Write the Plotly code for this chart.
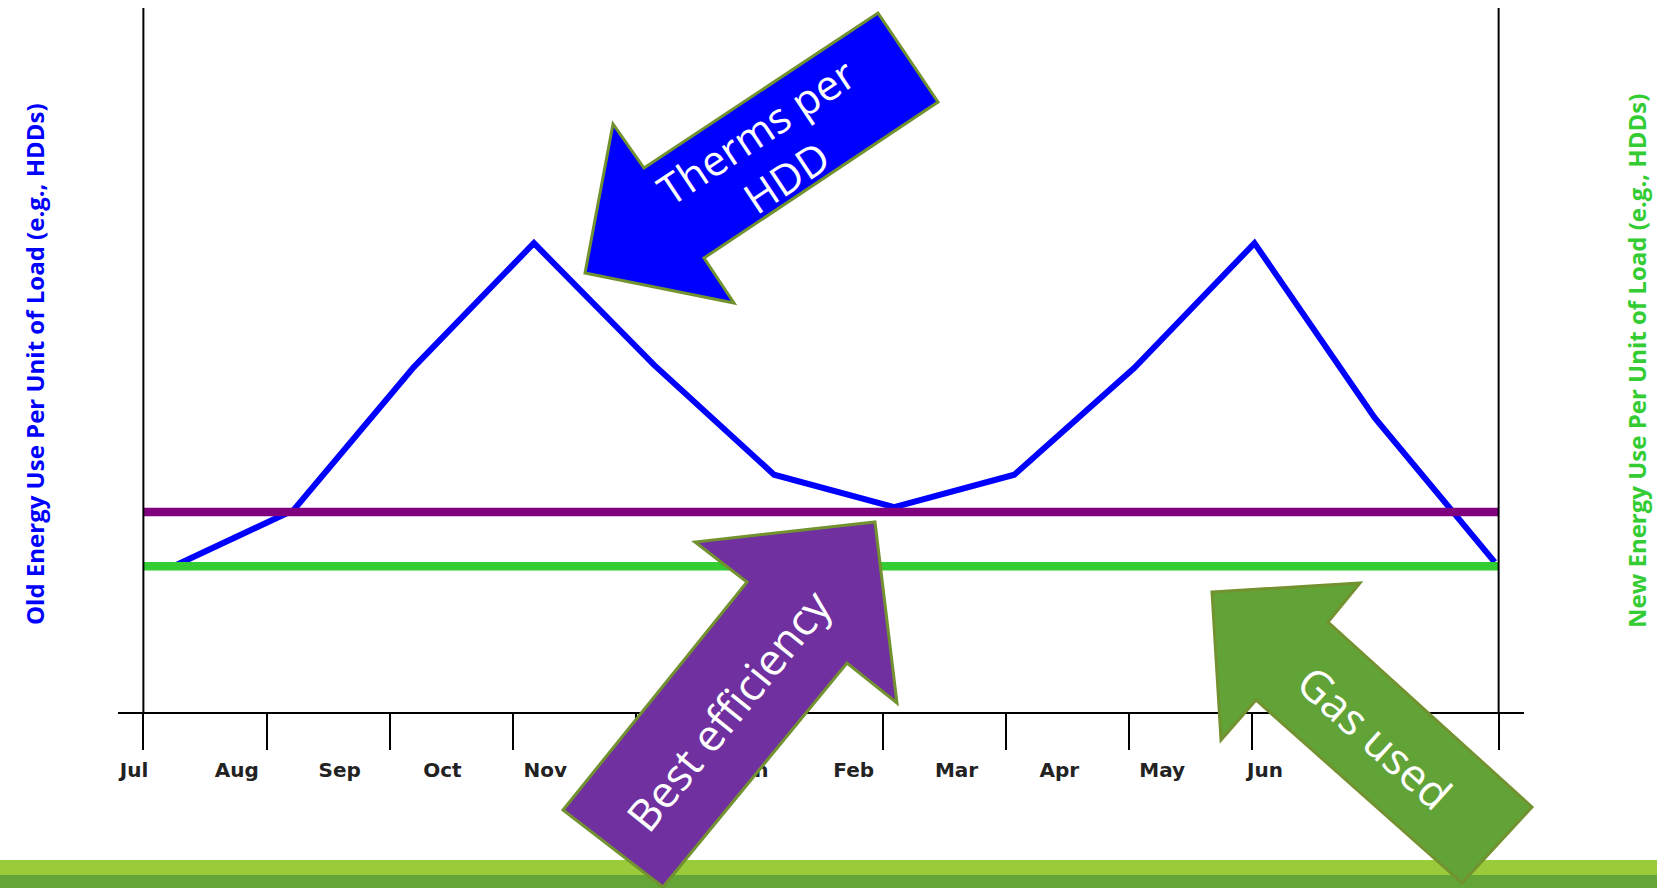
import plotly.graph_objects as go

# ---- data -------------------------------------------------------------
MONTHS = ["Jul", "Aug", "Sep", "Oct", "Nov", "Dec",
          "Jan", "Feb", "Mar", "Apr", "May", "Jun"]

# therms per heating degree day, month by month
THERMS_PER_HDD = [2.07, 2.87, 4.90, 6.66, 4.93, 3.37, 2.91, 3.37, 4.89, 6.66, 4.18, 2.13]
# best efficiency reached (flat reference level)
BEST_EFFICIENCY = [2.84, 2.84, 2.84, 2.84, 2.84, 2.84, 2.84, 2.84, 2.84, 2.84, 2.84, 2.84]
# gas used after the upgrade (flat level)
GAS_USED = [2.07, 2.07, 2.07, 2.07, 2.07, 2.07, 2.07, 2.07, 2.07, 2.07, 2.07, 2.07]

LEFT_TITLE = "Old Energy Use Per Unit of Load (e.g., HDDs)"
RIGHT_TITLE = "New Energy Use Per Unit of Load (e.g., HDDs)"

# ---- page geometry ----------------------------------------------------
W, H = 1657, 888
ML, MR, MT, MB = 118, 133, 8, 176
PW, PH = W - ML - MR, H - MT - MB


def paper(px, py):
    """Page pixel position -> paper coordinates."""
    return (px - ML) / PW, (H - MB - py) / PH


def arrow_path(pts):
    out = []
    for i, (x, y) in enumerate(pts):
        u, v = paper(x, y)
        out.append(("M" if i == 0 else "L") + f"{u:.5f},{v:.5f}")
    return " ".join(out) + " Z"


BLUE = "#0000FF"
PURPLE = "#800080"
LIME = "#33CC33"
OUTLINE = "#72922F"

fig = go.Figure()

# blue line on its own (slightly inset) category axis
fig.add_trace(go.Scatter(
    x=MONTHS, y=THERMS_PER_HDD, xaxis="x", yaxis="y", mode="lines",
    line=dict(color=BLUE, width=6), hoverinfo="skip", showlegend=False))

# carrier for the month labels
fig.add_trace(go.Scatter(
    x=MONTHS, y=GAS_USED, xaxis="x2", yaxis="y", mode="lines",
    line=dict(color="rgba(0,0,0,0)", width=1), opacity=0,
    hoverinfo="skip", showlegend=False))

# flat levels on the framed axis
fig.add_trace(go.Scatter(
    x=MONTHS, y=BEST_EFFICIENCY, xaxis="x3", yaxis="y", mode="lines",
    line=dict(color=PURPLE, width=8.5), hoverinfo="skip", showlegend=False))
fig.add_trace(go.Scatter(
    x=MONTHS, y=GAS_USED, xaxis="x3", yaxis="y", mode="lines",
    line=dict(color=LIME, width=8.5), hoverinfo="skip", showlegend=False))

# ---- decorations ------------------------------------------------------
shapes = []
# frame verticals at the first and last month
for idx in (0, len(MONTHS) - 1):
    shapes.append(dict(type="line", xref="x3", yref="paper", x0=idx, x1=idx,
                       y0=0, y1=1, line=dict(color="#000000", width=2), layer="above"))

# footer bands
bx0, _ = paper(0, 0)
bx1, _ = paper(W, 0)
_, y860 = paper(0, 860)
_, y875 = paper(0, 875)
_, y888 = paper(0, 888)
shapes.append(dict(type="rect", xref="paper", yref="paper", x0=bx0, x1=bx1,
                   y0=y875, y1=y860, fillcolor="#9ACB3A", line=dict(width=0), layer="above"))
shapes.append(dict(type="rect", xref="paper", yref="paper", x0=bx0, x1=bx1,
                   y0=y888, y1=y875, fillcolor="#63A537", line=dict(width=0), layer="above"))

# callout arrows
therm_arrow = [(585, 273), (613, 124), (644, 168), (878, 13), (938, 102),
               (704, 258), (734, 303)]
best_arrow = [(875, 522), (897, 703), (847, 663), (663, 887), (563, 810),
              (747, 582), (695, 542)]
gas_arrow = [(1212, 592), (1360, 583), (1328, 622), (1532, 807), (1462, 883),
             (1256, 700), (1221, 740)]
for pts, fill in ((therm_arrow, "#0000FF"), (best_arrow, "#7030A0"), (gas_arrow, "#62A338")):
    shapes.append(dict(type="path", xref="paper", yref="paper", path=arrow_path(pts),
                       fillcolor=fill, line=dict(color=OUTLINE, width=3), layer="above"))

annotations = []
for text, (cx, cy), ang, size in (
        ("Therms per<br>HDD", (771, 154), -33.6, 42),
        ("Best efficiency", (728, 710), -51, 44),
        ("Gas used", (1375, 737), 42, 44)):
    u, v = paper(cx, cy)
    annotations.append(dict(text=text, x=u, y=v, xref="paper", yref="paper",
                            showarrow=False, textangle=ang, xanchor="center",
                            yanchor="middle",
                            font=dict(family="Open Sans", size=size, color="white")))

for text, (cx, cy), color in ((LEFT_TITLE, (35, 364), BLUE),
                              (RIGHT_TITLE, (1636, 361), LIME)):
    u, v = paper(cx, cy)
    annotations.append(dict(text=text, x=u, y=v, xref="paper", yref="paper",
                            showarrow=False, textangle=-90, xanchor="center",
                            yanchor="middle",
                            font=dict(family="Open Sans", size=24, color=color,
                                      weight="bold")))

# ---- axes -------------------------------------------------------------
n = len(MONTHS) - 1
line_dom = (paper(167.6, 0)[0], paper(1500.7, 0)[0])
label_dom = (paper(134, 0)[0], paper(1265, 0)[0])

fig.update_layout(
    width=W, height=H,
    margin=dict(l=ML, r=MR, t=MT, b=MB),
    paper_bgcolor="white", plot_bgcolor="rgba(0,0,0,0)",
    showlegend=False,
    xaxis=dict(domain=list(line_dom), type="category", range=[-0.05, n + 0.05],
               visible=False, anchor="y"),
    xaxis2=dict(domain=list(label_dom), type="category", range=[0, n],
                anchor="y", showline=False, showgrid=False, zeroline=False,
                ticks="", ticklabelstandoff=44,
                tickfont=dict(family="DejaVu Sans", size=20, color="#222222",
                              weight="bold")),
    xaxis3=dict(domain=[0, 1], type="category", range=[-0.206, n + 0.206],
                anchor="y", showline=True, linecolor="#000000", linewidth=2,
                ticks="outside", ticklen=36, tickwidth=2, tickcolor="#000000",
                showticklabels=False, showgrid=False, zeroline=False),
    yaxis=dict(domain=[0, 1], range=[0, 10], visible=False),
    shapes=shapes,
    annotations=annotations,
)

fig.write_html("out.html")
